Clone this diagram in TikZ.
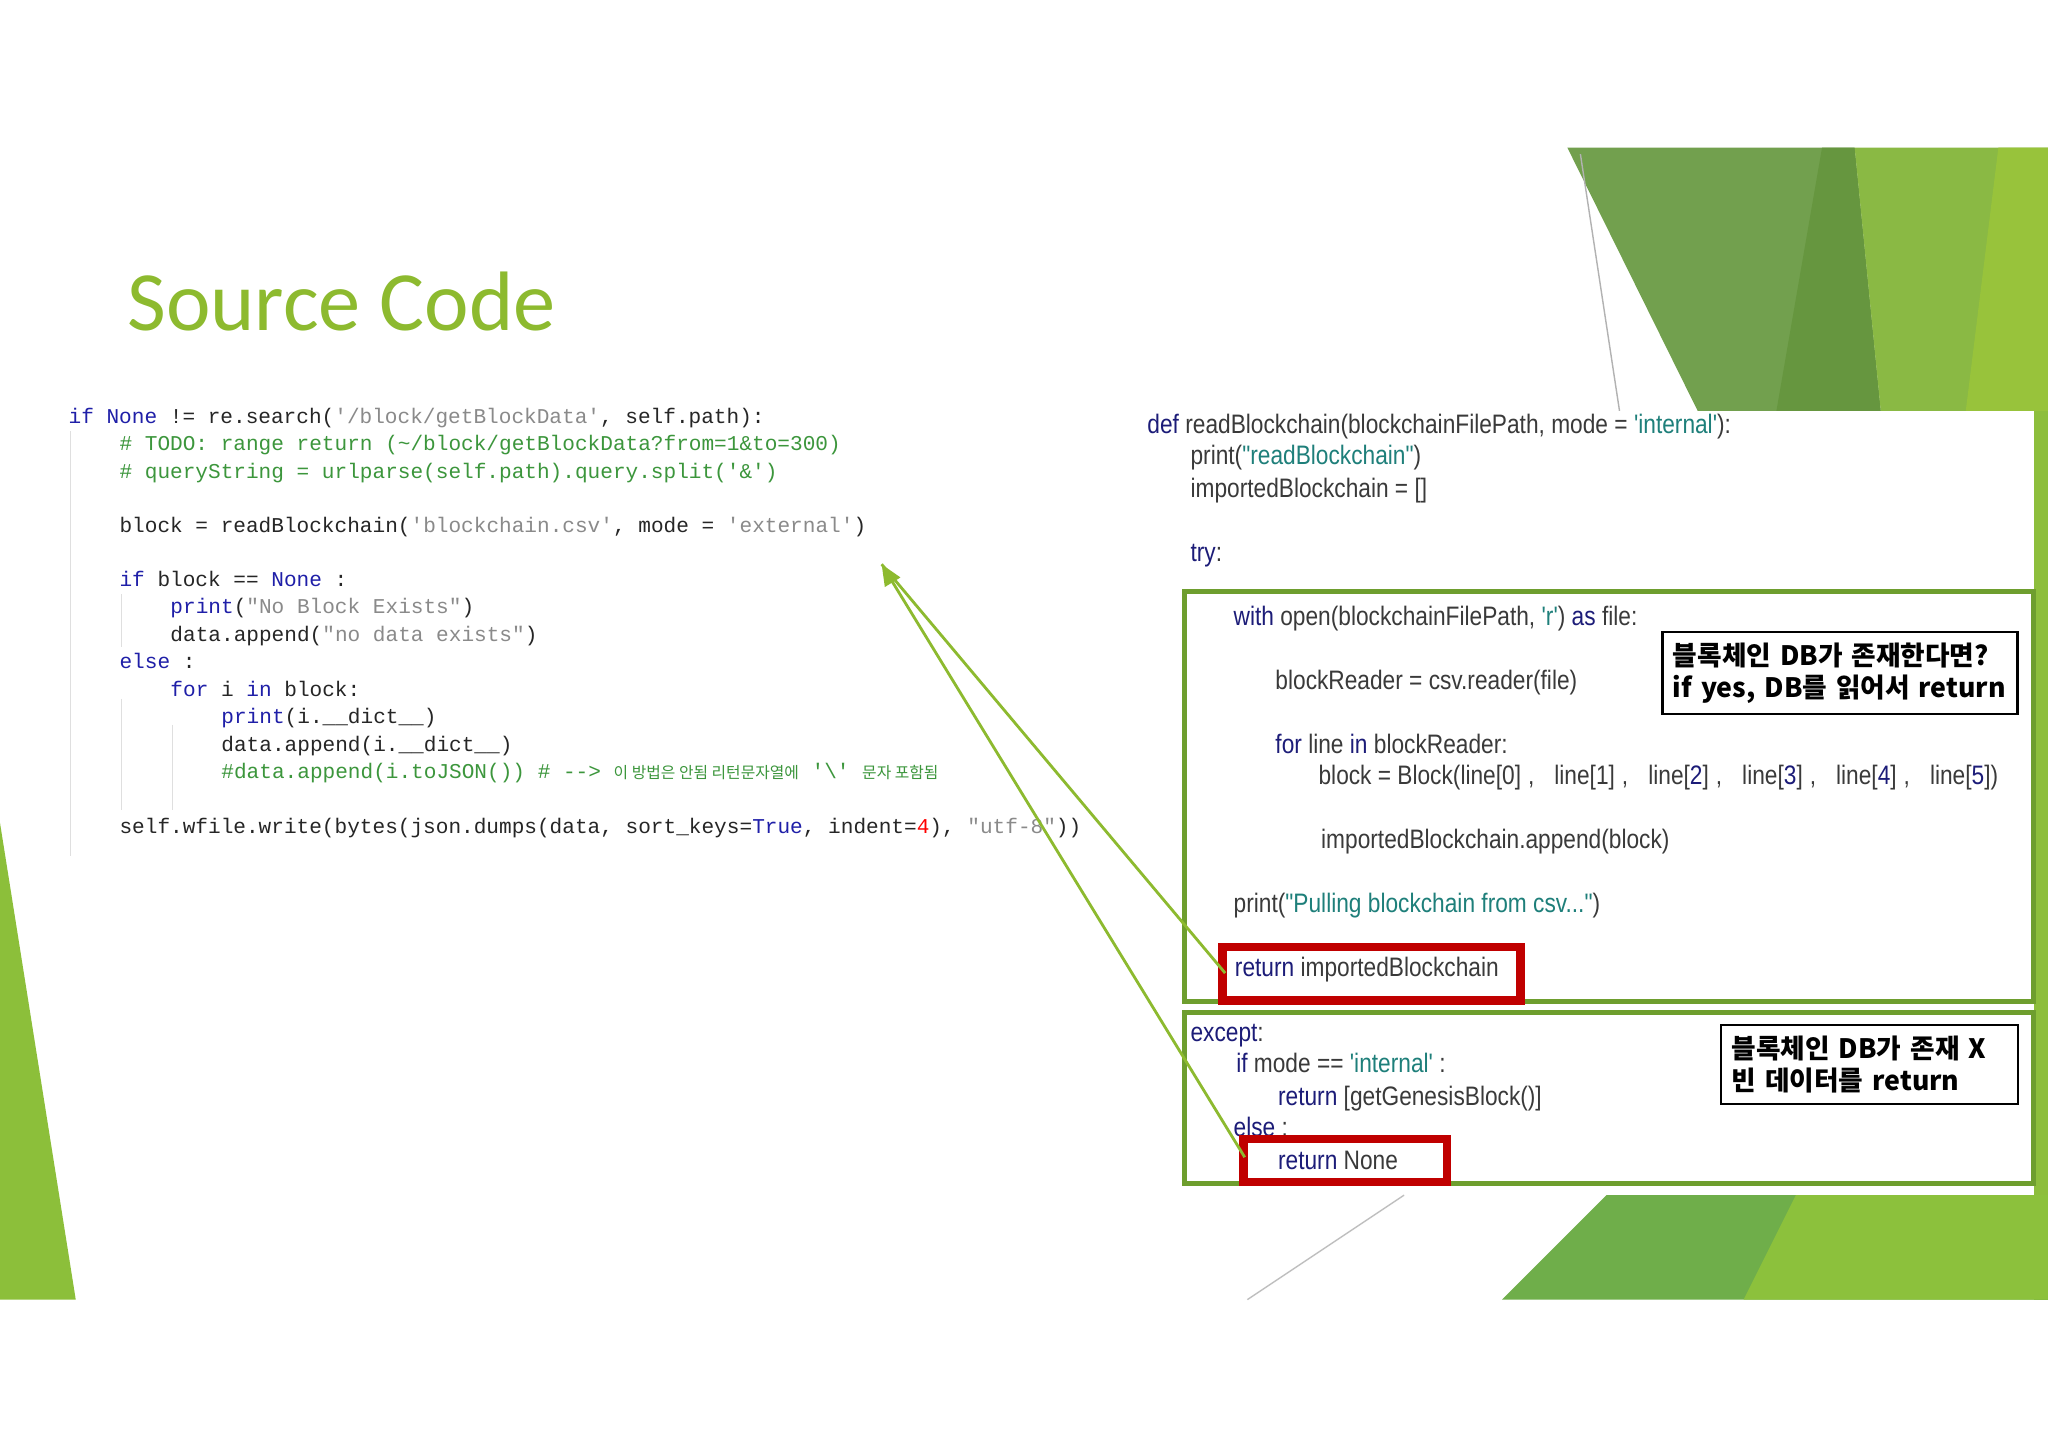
\documentclass[tikz,border=0pt]{standalone}
\usepackage{fontspec}
\usetikzlibrary{arrows.meta}
\newfontfamily\titlefont{Carlito}
\newfontfamily\lmono{Liberation Mono}
\newfontfamily\rsans[FakeStretch=0.85]{Liberation Sans}
\newfontfamily\cjk{Noto Sans CJK KR}
\definecolor{tgreen}{HTML}{8DBA2F}
\definecolor{kwL}{HTML}{1F1FA8}
\definecolor{stL}{HTML}{8A8A8A}
\definecolor{cmL}{HTML}{3C963C}
\definecolor{kwR}{HTML}{1C1C78}
\definecolor{stR}{HTML}{1E7F7A}
\definecolor{txR}{HTML}{3A3A3A}
\definecolor{boxG}{HTML}{6E9E2E}
\definecolor{redB}{HTML}{C00000}
\definecolor{arrG}{HTML}{8DBA2F}
\definecolor{dA}{HTML}{72A04E}
\definecolor{dB}{HTML}{66963F}
\definecolor{dC}{HTML}{8AB944}
\definecolor{dD}{HTML}{98C33B}
\definecolor{dE}{HTML}{8DBE3C}
\definecolor{dF}{HTML}{6FAE4A}
\definecolor{dG}{HTML}{8CC13C}
\definecolor{dH}{HTML}{8CBF3A}
\newcommand{\cKw}[1]{\textcolor{kwL}{#1}}
\newcommand{\cSt}[1]{\textcolor{stL}{#1}}
\newcommand{\cCm}[1]{\textcolor{cmL}{#1}}
\newcommand{\rKw}[1]{\textcolor{kwR}{#1}}
\newcommand{\rSt}[1]{\textcolor{stR}{#1}}
\newcommand{\rNm}[1]{\textcolor{kwR}{#1}}
\newcommand{\rcm}{\hspace{0.07cm},\hspace{0.2cm}}
\begin{document}
\begin{tikzpicture}[x=0.01306cm,y=-0.01306cm,
  lc/.style={anchor=base west,inner sep=0,font=\lmono\fontsize{6}{7}\selectfont,text=black!85},
  rc/.style={anchor=base west,inner sep=0,font=\rsans\fontsize{7.6}{9}\selectfont,text=txR},
  callout/.style={draw=black,line width=0.6pt,fill=white,align=left,inner sep=3pt,font=\cjk\bfseries\fontsize{7.6}{9.2}\selectfont,anchor=north west},
  gbox/.style={draw=boxG,line width=1.4pt},
  rbox/.style={draw=redB,line width=2.4pt},
  conn/.style={draw=arrG,line width=0.8pt}]
\useasboundingbox (0,0) rectangle (1568,1109);
\fill[white] (0,0) rectangle (1568,1109);
% decorations
\fill[dA] (1200,113) -- (1420,113) -- (1440,315) -- (1300,315) -- cycle;
\fill[dB] (1395,113) -- (1420,113) -- (1440,315) -- (1360,315) -- cycle;
\fill[dC] (1420,113) -- (1568,113) -- (1568,315) -- (1440,315) -- cycle;
\fill[dD] (1530,113) -- (1568,113) -- (1568,315) -- (1505,315) -- cycle;
\draw[gray!60,line width=0.4pt] (1210,118) -- (1240,315);
\fill[dE] (1557,315) rectangle (1568,995);
\fill[dF] (1150,995) -- (1230,915) -- (1568,915) -- (1568,995) -- cycle;
\fill[dG] (1335,995) -- (1375,915) -- (1568,915) -- (1568,995) -- cycle;
\draw[gray!50,line width=0.4pt] (1075,915) -- (955,995);
\fill[dH] (0,630) -- (58,995) -- (0,995) -- cycle;
% title
\node[anchor=base west,inner sep=0,font=\titlefont\fontsize{24}{27}\selectfont,text=tgreen] (title) at (97,253) {Source Code};
% left code
\draw[gray!25,line width=0.4pt] (54,330) -- (54,655);
\draw[gray!25,line width=0.4pt] (93,455) -- (93,495);
\draw[gray!25,line width=0.4pt] (93,535) -- (93,620);
\draw[gray!25,line width=0.4pt] (132,555) -- (132,620);
\node[lc] (l1) at (52,324) {\cKw{if} \cKw{None} != re.search(\cSt{'/block/getBlockData'}, self.path):};
\node[lc] (l2) at (91,345) {\cCm{\# TODO: range return (\textasciitilde/block/getBlockData?from=1\&to=300)}};
\node[lc] (l3) at (91,366) {\cCm{\# queryString = urlparse(self.path).query.split('\&')}};
\node[lc] (l4) at (91,408) {block = readBlockchain(\cSt{'blockchain.csv'}, mode = \cSt{'external'})};
\node[lc] (l5) at (91,449) {\cKw{if} block == \cKw{None} :};
\node[lc] (l6) at (130,470) {\cKw{print}(\cSt{"No Block Exists"})};
\node[lc] (l7) at (130,491) {data.append(\cSt{"no data exists"})};
\node[lc] (l8) at (91,512) {\cKw{else} :};
\node[lc] (l9) at (130,533) {\cKw{for} i \cKw{in} block:};
\node[lc] (l10) at (169,554) {\cKw{print}(i.\_\_dict\_\_)};
\node[lc] (l11) at (169,575) {data.append(i.\_\_dict\_\_)};
\node[lc] (l12) at (169,596) {\cCm{\#data.append(i.toJSON()) \# --> {\cjk\fontsize{4.5}{5}\selectfont 이 방법은 안됨 리턴문자열에} '\textbackslash' {\cjk\fontsize{4.5}{5}\selectfont 문자 포함됨}}};
\node[lc] (l13) at (91,638) {self.wfile.write(bytes(json.dumps(data, sort\_keys=\cKw{True}, indent=\textcolor{red}{4}), \cSt{"utf-8"}))};
% right panel
\fill[white] (870,315) rectangle (1557,908);
\node[rc] (r1) at (878,332) {\rKw{def} readBlockchain(blockchainFilePath, mode = \rSt{'internal'}):};
\node[rc] (r2) at (911,356) {print(\rSt{"readBlockchain"})};
\node[rc] (r3) at (911,381) {importedBlockchain = []};
\node[rc] (r4) at (911,430) {\rKw{try}:};
\node[rc] (r5) at (944,479) {\rKw{with} open(blockchainFilePath, \rSt{'r'}) \rKw{as} file:};
\node[rc] (r6) at (976,528) {blockReader = csv.reader(file)};
\node[rc] (r7) at (976,577) {\rKw{for} line \rKw{in} blockReader:};
\node[rc] (r8) at (1009,601) {block = Block(line[0]\rcm line[1]\rcm line[\rNm{2}]\rcm line[\rNm{3}]\rcm line[\rNm{4}]\rcm line[\rNm{5}])};
\node[rc] (r9) at (1011,650) {importedBlockchain.append(block)};
\node[rc] (r10) at (944,699) {print(\rSt{"Pulling blockchain from csv..."})};
\node[rc] (r11) at (945,748) {\rKw{return} importedBlockchain};
\node[rc] (r12) at (911,797) {\rKw{except}:};
\node[rc] (r13) at (946,821) {\rKw{if} mode == \rSt{'internal'} :};
\node[rc] (r14) at (978,846) {\rKw{return} [getGenesisBlock()]};
\node[rc] (r15) at (944,870) {\rKw{else} :};
\node[rc] (r16) at (978,895) {\rKw{return} None};
% boxes
\draw[gbox] (907,453) rectangle (1557,767);
\draw[gbox] (907,775) rectangle (1557,906);
\coordinate (rb1a) at (936,725); \coordinate (rb1b) at (1164,766);
\draw[rbox] (rb1a) rectangle (rb1b);
\coordinate (rb2a) at (952,872); \coordinate (rb2b) at (1108,905);
\draw[rbox] (rb2a) rectangle (rb2b);
\coordinate (s1) at (938,745);
\coordinate (s2) at (953,886);
\coordinate (tip) at (675,432);
\draw[conn] (s1) -- (tip);
\draw[conn,-{Triangle[length=6pt,width=5pt]}] (s2) -- (tip);
% callouts
\node[callout,text width=3.34cm] (c1) at (1272,483) {블록체인 DB가 존재한다면?\\if yes, DB를 읽어서 return};
\node[callout,text width=2.76cm] (c2) at (1317,784) {블록체인 DB가 존재 X\\빈 데이터를 return};
\end{tikzpicture}
\end{document}
